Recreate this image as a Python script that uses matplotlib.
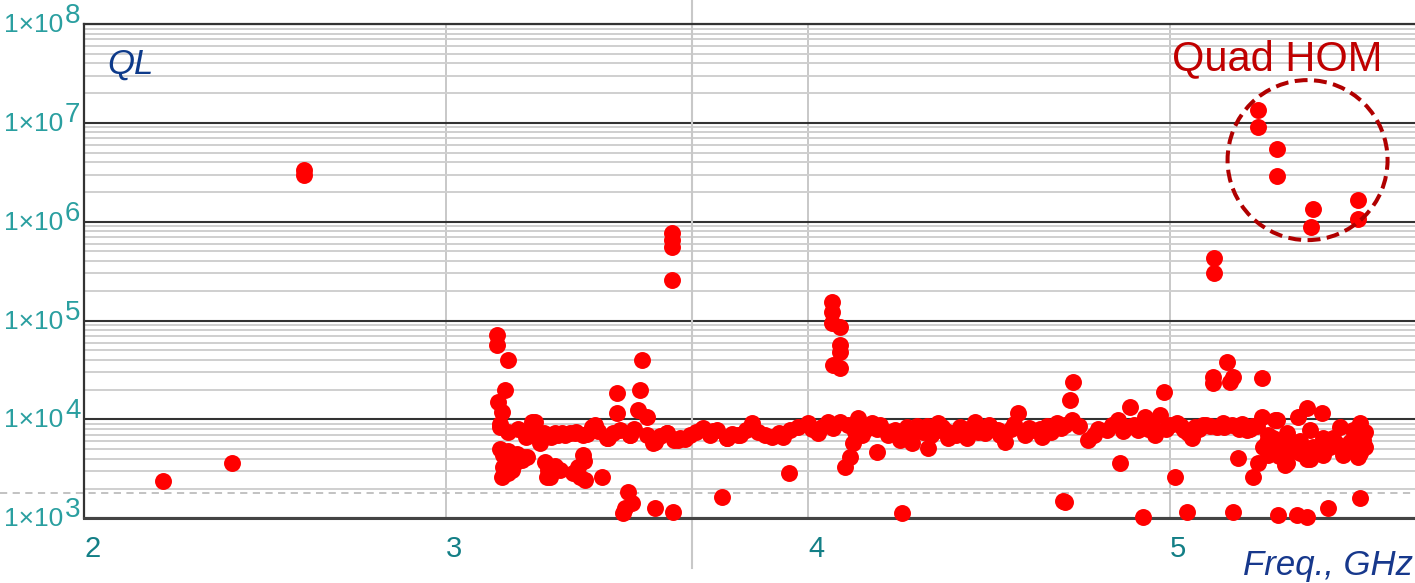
import numpy as np
import matplotlib
matplotlib.use("Agg")
import matplotlib.pyplot as plt
from matplotlib.patches import Ellipse
from matplotlib.ticker import LogLocator, NullFormatter

plt.rcParams['font.family'] = ['Liberation Sans', 'DejaVu Sans']

# --- data: frequency (GHz) and loaded Q ---
# isolated low-frequency modes
low_freq = [2.219, 2.408, 2.609, 2.609]
low_ql = [2.4e3, 3.6e3, 3.3e6, 3.0e6]

# 3.1 - 3.85 GHz
band1_freq = [3.141, 3.141, 3.171, 3.163, 3.144, 3.155, 3.149, 3.171, 3.149,
              3.157, 3.185, 3.213, 3.224, 3.157, 3.155, 3.182, 3.166, 3.196,
              3.260, 3.273, 3.282, 3.315, 3.287, 3.279, 3.238, 3.246, 3.232,
              3.301, 3.343, 3.378, 3.412, 3.448, 3.472, 3.472, 3.508, 3.536,
              3.530, 3.555, 3.541, 3.378, 3.365, 3.370, 3.384, 3.431, 3.503,
              3.514, 3.489, 3.494, 3.577, 3.627, 3.762, 3.572, 3.610, 3.646,
              3.674, 3.710, 3.749, 3.776, 3.812, 3.845, 3.624, 3.624, 3.624,
              3.624, 3.320, 3.356, 3.403, 3.445, 3.508, 3.555, 3.577, 3.610,
              3.640, 3.660, 3.707, 3.738, 3.776, 3.806,
              3.200, 3.220, 3.250, 3.270, 3.290, 3.310, 3.330, 3.360, 3.390,
              3.420, 3.460, 3.480, 3.150, 3.170, 3.190, 3.210, 3.170, 3.300,
              3.350, 3.380, 3.520, 3.590, 3.630, 3.690, 3.730, 3.790, 3.830]
band1_ql = [7.2e4, 5.7e4, 4.0e4, 2.0e4, 1.5e4, 1.2e4, 9.0e3, 7.5e3, 8.3e3,
            4.4e3, 4.2e3, 4.2e3, 4.2e3, 3.3e3, 2.6e3, 3.1e3, 3.8e3, 4.5e3,
            5.8e3, 3.7e3, 3.1e3, 3.1e3, 2.6e3, 2.6e3, 9.4e3, 9.5e3, 7.5e3,
            7.3e3, 7.3e3, 7.0e3, 8.8e3, 6.5e3, 1.16e4, 1.86e4, 7.0e3, 2.0e4,
            1.25e4, 1.06e4, 4.0e4, 4.4e3, 3.3e3, 2.6e3, 2.44e3, 2.6e3, 1.85e3,
            1.43e3, 1.13e3, 1.27e3, 1.27e3, 1.16e3, 1.64e3, 5.8e3, 7.3e3, 6.5e3,
            7.0e3, 8.2e3, 7.8e3, 6.5e3, 7.0e3, 9.2e3, 7.7e5, 6.6e5, 5.5e5,
            2.6e5, 7.3e3, 7.3e3, 8.4e3, 6.5e3, 7.0e3, 7.0e3, 5.9e3, 7.3e3,
            6.2e3, 6.4e3, 8.0e3, 7.6e3, 6.5e3, 7.0e3,
            8.0e3, 6.6e3, 6.8e3, 7.3e3, 6.6e3, 6.9e3, 7.0e3, 7.4e3, 7.2e3,
            7.6e3, 7.3e3, 7.8e3, 5.0e3, 4.8e3, 3.6e3, 3.9e3, 2.9e3, 3.4e3,
            2.9e3, 3.8e3, 8.0e3, 6.8e3, 6.2e3, 7.4e3, 7.0e3, 7.2e3, 7.8e3]

# 3.85 - 4.75 GHz
band2_freq = [4.066, 4.066, 4.066, 4.088, 4.088, 4.088, 4.069, 4.088,
              3.862, 3.901, 3.931, 3.972, 4.000, 4.028, 4.055, 4.088, 4.138,
              4.177, 4.130, 4.124, 4.116, 4.102, 4.191, 4.227, 4.273, 4.254,
              4.287, 4.318, 4.331, 4.359, 4.387, 4.420, 4.461, 4.439, 4.489,
              4.525, 4.544, 4.580, 4.599, 4.646, 4.688, 4.729, 4.724, 4.732,
              3.948, 4.260, 4.704, 4.160, 4.200, 4.240, 4.300, 4.340, 4.370,
              4.400, 4.450, 4.500, 4.560, 4.620, 4.660, 4.700,
              3.880, 3.920, 3.950, 4.010, 4.040, 4.070, 4.110, 4.150, 4.190,
              4.220, 4.260, 4.290, 4.330, 4.350, 4.380, 4.410, 4.430, 4.470,
              4.510, 4.530, 4.570, 4.610, 4.640, 4.670, 4.710]
band2_ql = [1.54e5, 1.22e5, 9.5e4, 8.6e4, 5.7e4, 4.8e4, 3.55e4, 3.3e4,
            7.5e3, 6.6e3, 6.6e3, 8.4e3, 9.2e3, 7.3e3, 9.4e3, 9.4e3, 1.04e4,
            9.2e3, 7.5e3, 5.8e3, 4.2e3, 3.3e3, 4.7e3, 7.5e3, 8.4e3, 6.2e3,
            5.8e3, 7.5e3, 5.1e3, 9.2e3, 6.5e3, 8.4e3, 9.4e3, 6.5e3, 7.3e3,
            7.8e3, 5.9e3, 1.16e4, 7.0e3, 6.6e3, 9.2e3, 9.9e3, 1.57e4, 2.4e4,
            2.9e3, 1.13e3, 1.5e3, 8.0e3, 8.8e3, 7.8e3, 8.6e3, 7.0e3, 8.4e3,
            7.3e3, 7.8e3, 8.8e3, 8.0e3, 7.8e3, 8.5e3, 8.2e3,
            7.0e3, 7.3e3, 7.8e3, 8.0e3, 8.4e3, 8.2e3, 8.8e3, 7.0e3, 8.0e3,
            7.0e3, 7.3e3, 8.0e3, 8.6e3, 7.6e3, 7.6e3, 7.0e3, 8.0e3, 7.4e3,
            8.0e3, 7.0e3, 9.0e3, 8.2e3, 8.0e3, 7.5e3, 8.8e3]

# 4.75 - 5.55 GHz
band3_freq = [5.122, 5.122, 4.983, 5.158, 5.119, 5.119, 5.174, 5.166, 5.254,
              5.378, 5.420, 4.773, 4.826, 4.856, 4.890, 4.912, 4.931, 4.959,
              4.972, 5.019, 5.061, 5.091, 5.146, 5.213, 5.254, 5.290, 4.862,
              5.014, 5.188, 5.229, 5.243, 5.257, 5.285, 5.304, 5.323, 5.331,
              5.359, 5.378, 5.395, 5.423, 5.442, 5.470, 5.478, 5.506, 5.525,
              5.533, 5.525, 5.497, 4.710, 4.925, 5.047, 5.174, 5.298, 5.351,
              5.378, 5.436, 5.525, 5.268, 5.323, 5.318, 5.387, 5.387, 5.423,
              5.450, 5.478, 5.519, 5.539, 5.519, 5.354, 5.296, 4.800, 4.880,
              4.940, 5.000, 5.040, 5.070, 5.110, 5.130, 5.170, 5.190, 5.230,
              4.750, 4.790, 4.840, 4.870, 4.900, 4.950, 4.990, 5.030, 5.050,
              5.080, 5.100, 5.150, 5.200, 5.220, 5.240, 5.270, 5.280, 5.310,
              5.340, 5.360, 5.370, 5.410, 5.440, 5.460, 5.490, 5.510, 5.540,
              5.270, 5.300, 5.330, 5.400]
band3_ql = [4.3e5, 3.0e5, 1.9e4, 3.8e4, 2.7e4, 2.35e4, 2.7e4, 2.4e4, 2.6e4,
            1.31e4, 1.16e4, 6.2e3, 7.8e3, 9.9e3, 1.34e4, 7.8e3, 1.06e4, 7.0e3,
            1.1e4, 9.2e3, 6.5e3, 8.8e3, 9.2e3, 7.8e3, 1.06e4, 9.9e3, 3.6e3,
            2.6e3, 4.1e3, 2.6e3, 3.6e3, 5.3e3, 6.5e3, 5.3e3, 3.6e3, 5.8e3,
            4.6e3, 4.0e3, 5.3e3, 6.5e3, 5.3e3, 8.4e3, 4.4e3, 7.8e3, 9.2e3,
            6.2e3, 4.6e3, 5.9e3, 1.46e3, 1.03e3, 1.16e3, 1.16e3, 1.08e3, 1.08e3,
            1.03e3, 1.27e3, 1.6e3, 5.9e3, 7.3e3, 3.5e3, 7.8e3, 4.0e3, 4.4e3,
            6.5e3, 4.9e3, 6.6e3, 5.3e3, 4.2e3, 1.06e4, 9.9e3, 8.0e3, 8.4e3,
            8.0e3, 8.8e3, 7.8e3, 8.4e3, 8.6e3, 8.4e3, 8.8e3, 8.0e3, 8.6e3,
            8.5e3, 7.0e3, 8.8e3, 7.6e3, 8.8e3, 8.6e3, 8.0e3, 8.6e3, 7.3e3,
            8.0e3, 8.8e3, 8.4e3, 9.0e3, 8.0e3, 8.6e3, 7.0e3, 5.0e3, 6.2e3,
            5.0e3, 6.0e3, 5.2e3, 4.8e3, 6.0e3, 5.6e3, 5.0e3, 6.8e3, 7.5e3,
            4.4e3, 4.3e3, 4.7e3, 4.5e3]

# quadrupole HOMs (circled)
quad_freq = [5.243, 5.243, 5.296, 5.296, 5.395, 5.390, 5.519, 5.519]
quad_ql = [1.35e7, 9.1e6, 5.4e6, 2.9e6, 1.35e6, 8.9e5, 1.66e6, 1.07e6]

x_ticks = [2, 3, 4, 5]
y_decades = [1e3, 1e4, 1e5, 1e6, 1e7, 1e8]
ql_threshold = 1.8e3
cursor_ghz = 3.679
quad_center = (5.38, 4.2e6)

fig = plt.figure(figsize=(14.15, 5.83), dpi=100)
ax = fig.add_axes([84 / 1415, 64.7 / 583, 1340 / 1415, 494.3 / 583])
ax.set_yscale('log')
ax.set_xlim(2.0, 2 + 1340 / 362)
ax.set_ylim(1e3, 1e8)

# grid
ax.yaxis.set_minor_locator(LogLocator(base=10, subs=np.arange(2, 10)))
ax.yaxis.set_minor_formatter(NullFormatter())
ax.grid(which='minor', axis='y', color='#CFCFCF', lw=1.4)
ax.grid(which='major', axis='y', color='#333333', lw=1.5)
ax.grid(which='major', axis='x', color='#C8C8C8', lw=1.4)
ax.set_axisbelow(True)
ax.tick_params(which='both', length=0)
for s in ['left', 'top']:
    ax.spines[s].set_color('#333333')
    ax.spines[s].set_linewidth(1.6)
ax.spines['bottom'].set_color('#444444')
ax.spines['bottom'].set_linewidth(2.2)
ax.spines['right'].set_visible(False)

# x ticks, left aligned at the grid line
ax.set_xticks(x_ticks)
ax.set_xticklabels([str(t) for t in x_ticks], fontsize=21, color='#137F86')
for lab in ax.get_xticklabels():
    lab.set_horizontalalignment('left')
ax.tick_params(axis='x', pad=12)

# y ticks drawn as "1x10" + raised exponent
ax.set_yticks(y_decades)
ax.set_yticklabels([''] * len(y_decades))
for v in y_decades:
    e = int(round(np.log10(v)))
    ax.annotate('1\u00d710', xy=(0, v), xycoords=('axes fraction', 'data'),
                xytext=(-21, -1), textcoords='offset pixels', ha='right',
                va='center', fontsize=19, color='#2A9FA0', annotation_clip=False)
    ax.annotate(str(e), xy=(0, v), xycoords=('axes fraction', 'data'),
                xytext=(-19, 1), textcoords='offset pixels', ha='left',
                va='baseline', fontsize=20, color='#2A9FA0', annotation_clip=False)

# reference lines
ax.axhline(ql_threshold, xmin=-84 / 1340, xmax=1, clip_on=False,
           color='#BDBDBD', lw=1.3, ls=(0, (4, 3)), zorder=1)
ax.axvline(cursor_ghz, ymin=-0.1005, ymax=1.05, clip_on=False,
           color='#C8C8C8', lw=1.5, zorder=1)

# the points
all_freq = low_freq + band1_freq + band2_freq + band3_freq + quad_freq
all_ql = low_ql + band1_ql + band2_ql + band3_ql + quad_ql
ax.plot(all_freq, all_ql, 'o', color='#FF0000', ms=12.2, mec='none',
        zorder=3, clip_on=False)

# dashed circle around the quad HOMs
cx, cy = ax.transAxes.inverted().transform(ax.transData.transform(quad_center))
ax.add_patch(Ellipse((cx, cy), 160 / 1340, 160 / 494.3, transform=ax.transAxes,
                     fill=False, ec='#B00000', lw=2.9, ls=(0, (3.2, 1.6)),
                     zorder=4, clip_on=False))

fig.text(107 / 1415, 1 - 74 / 583, 'QL', fontsize=25, style='italic',
         color='#0D3A8A', va='baseline')
fig.text(1172 / 1415, 1 - 70 / 583, 'Quad HOM', fontsize=30,
         color='#C00000', va='baseline')
fig.text(1243 / 1415, 1 - 575 / 583, 'Freq., GHz', fontsize=25, style='italic',
         color='#17388C', va='baseline')

fig.savefig('out.png', dpi=100)
